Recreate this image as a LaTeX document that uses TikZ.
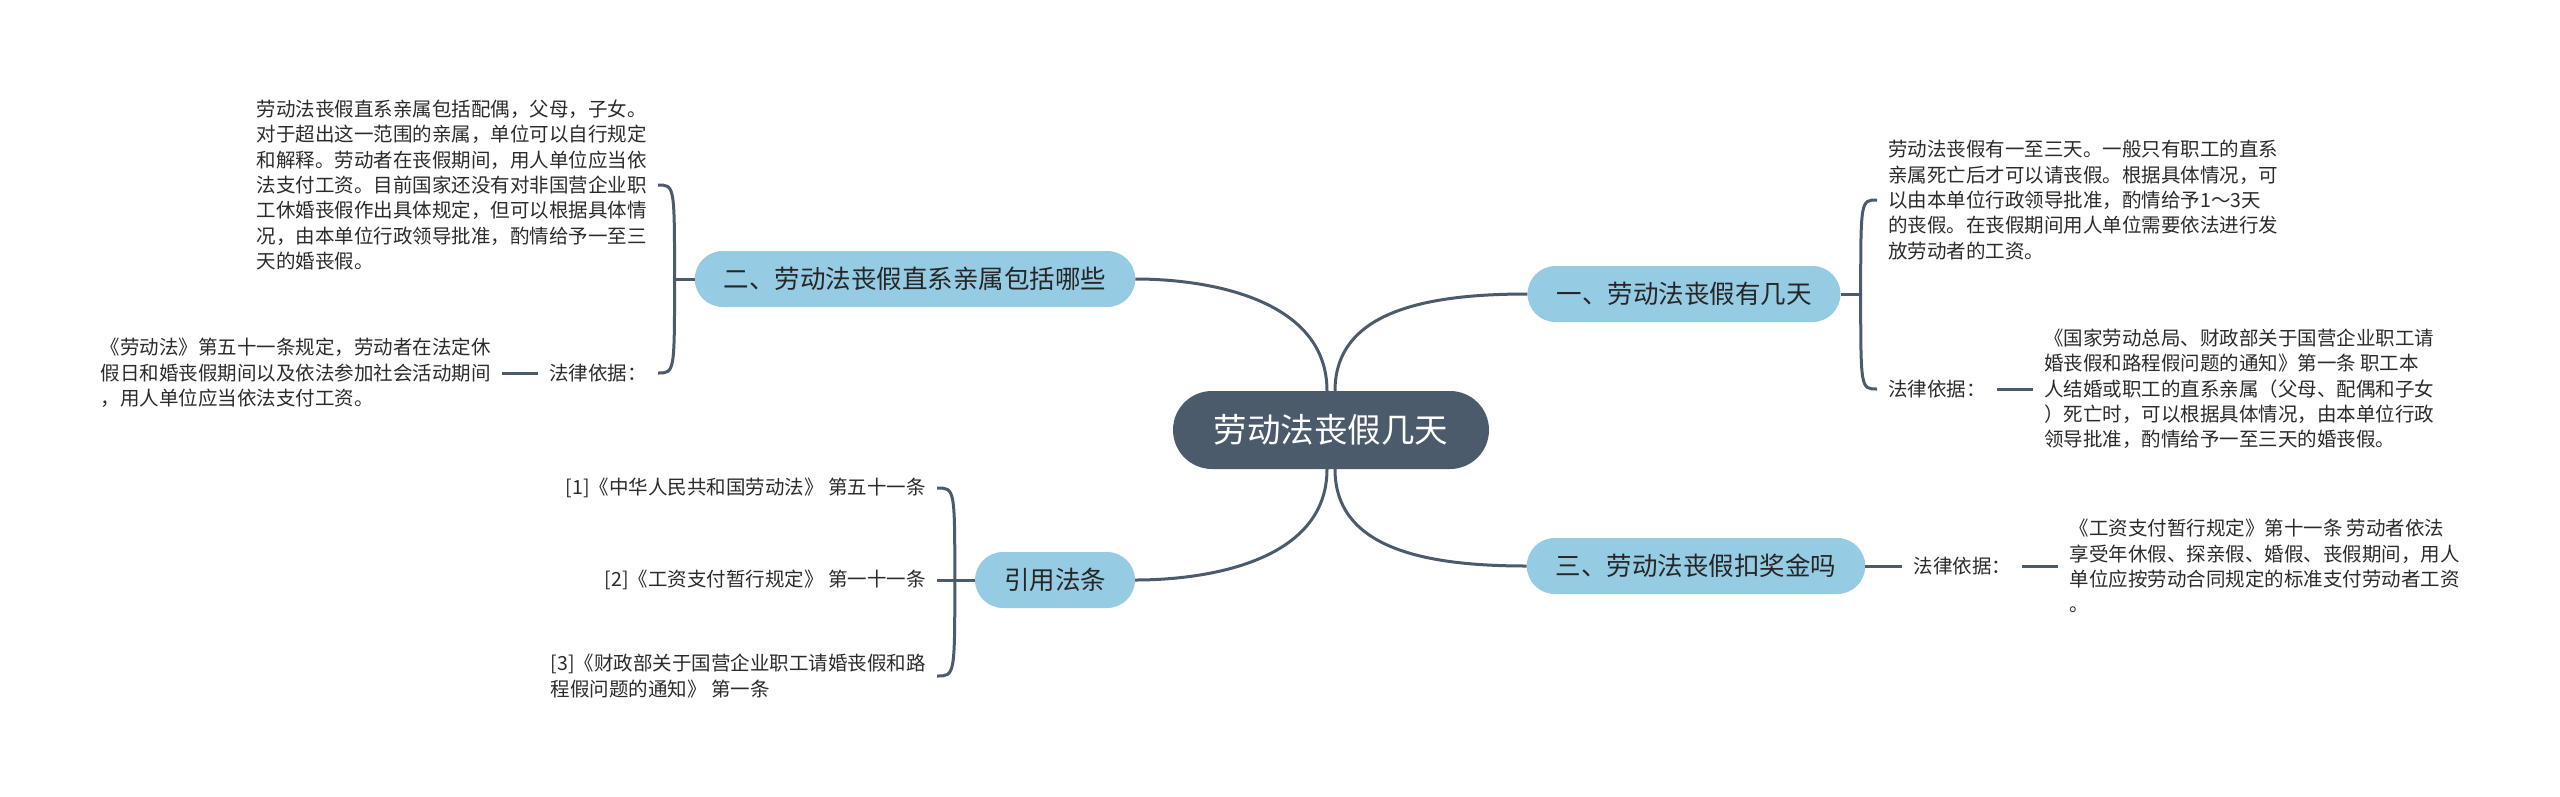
\documentclass[tikz,border=0pt]{standalone}
\usepackage{fontspec}
\setmainfont{Noto Sans CJK SC}
\usetikzlibrary{positioning,calc}

\definecolor{rootcol}{HTML}{4B5B6B}
\definecolor{topiccol}{HTML}{96CBE4}
\definecolor{linecol}{HTML}{4B5B6B}
\definecolor{textcol}{HTML}{2B2B2B}

\begin{document}
\begin{tikzpicture}[
    x=1pt, y=-1pt,
    rootbox/.style={fill=rootcol, text=white, rounded corners=39pt, minimum width=316pt, minimum height=78pt, inner xsep=40pt, font=\fontsize{33.5}{40}\selectfont},
    topicbox/.style={fill=topiccol, text=black!85, rounded corners=28pt, minimum height=56pt, inner xsep=29pt, font=\fontsize{25.5}{30}\selectfont},
    textbox/.style={text=textcol, align=left, inner xsep=11pt, inner ysep=2pt, font=\fontsize{19.5}{25.3}\selectfont},
    conn/.style={draw=linecol, line width=3pt}
]
    \useasboundingbox (0,0) rectangle (2560,796);

    % centre
    \node[rootbox] (root) at (1331,430) {劳动法丧假几天};

    % main topics
    \node[topicbox] (fix) at (1684,294) {一、劳动法丧假有几天};
    \node[topicbox] (kin) at (915,279) {二、劳动法丧假直系亲属包括哪些};
    \node[topicbox] (bonus) at (1696,566) {三、劳动法丧假扣奖金吗};
    \node[topicbox] (refs) at (1055,580) {引用法条};

    % centre to topics
    \draw[conn] ([xshift=4pt]root.north) .. controls +(0,-80) and +(-100,0) .. (fix.west);
    \draw[conn] ([xshift=-4pt]root.north) .. controls +(0,-91) and +(75,0) .. (kin.east);
    \draw[conn] ([xshift=4pt]root.south) .. controls +(0,80) and +(-100,0) .. (bonus.west);
    \draw[conn] ([xshift=-4pt]root.south) .. controls +(0,91) and +(75,0) .. (refs.east);

    % topic one
    \coordinate (fixj) at ([xshift=20pt]fix.east);
    \node[textbox, anchor=west] (fixtext) at (1877,200) {劳动法丧假有一至三天。一般只有职工的直系\\亲属死亡后才可以请丧假。根据具体情况，可\\以由本单位行政领导批准，酌情给予1～3天\\的丧假。在丧假期间用人单位需要依法进行发\\放劳动者的工资。};
    \node[textbox, anchor=west] (fixlaw) at (1877,389) {法律依据：};
    \node[textbox, right=36pt of fixlaw] (fixlawtext) {《国家劳动总局、财政部关于国营企业职工请\\婚丧假和路程假问题的通知》第一条 职工本\\人结婚或职工的直系亲属（父母、配偶和子女\\）死亡时，可以根据具体情况，由本单位行政\\领导批准，酌情给予一至三天的婚丧假。};
    \draw[conn] (fix.east) -- (fixj);
    \draw[conn] (fixj) .. controls (fixj |- fixtext.west) and (fixj |- fixtext.west) .. (fixtext.west);
    \draw[conn] (fixj) .. controls (fixj |- fixlaw.west) and (fixj |- fixlaw.west) .. (fixlaw.west);
    \draw[conn] (fixlaw) -- (fixlawtext);

    % topic two
    \coordinate (kinj) at ([xshift=-20pt]kin.west);
    \node[textbox, anchor=east] (kintext) at (658,185) {劳动法丧假直系亲属包括配偶，父母，子女。\\对于超出这一范围的亲属，单位可以自行规定\\和解释。劳动者在丧假期间，用人单位应当依\\法支付工资。目前国家还没有对非国营企业职\\工休婚丧假作出具体规定，但可以根据具体情\\况，由本单位行政领导批准，酌情给予一至三\\天的婚丧假。};
    \node[textbox, anchor=east] (kinlaw) at (658,373) {法律依据：};
    \node[textbox, left=36pt of kinlaw] (kinlawtext) {《劳动法》第五十一条规定，劳动者在法定休\\假日和婚丧假期间以及依法参加社会活动期间\\，用人单位应当依法支付工资。};
    \draw[conn] (kin.west) -- (kinj);
    \draw[conn] (kinj) .. controls (kinj |- kintext.east) and (kinj |- kintext.east) .. (kintext.east);
    \draw[conn] (kinj) .. controls (kinj |- kinlaw.east) and (kinj |- kinlaw.east) .. (kinlaw.east);
    \draw[conn] (kinlaw) -- (kinlawtext);

    % topic three
    \node[textbox, right=37pt of bonus] (bonuslaw) {法律依据：};
    \node[textbox, right=36pt of bonuslaw] (bonuslawtext) {《工资支付暂行规定》第十一条 劳动者依法\\享受年休假、探亲假、婚假、丧假期间，用人\\单位应按劳动合同规定的标准支付劳动者工资\\。};
    \draw[conn] (bonus) -- (bonuslaw);
    \draw[conn] (bonuslaw) -- (bonuslawtext);

    % references
    \coordinate (refj) at ([xshift=-20pt]refs.west);
    \node[textbox, left=38pt of refs] (refb) {[2]《工资支付暂行规定》 第一十一条};
    \node[textbox, anchor=east] (refa) at (937,488) {[1]《中华人民共和国劳动法》 第五十一条};
    \node[textbox, anchor=east] (refc) at (937,676) {[3]《财政部关于国营企业职工请婚丧假和路\\程假问题的通知》 第一条};
    \draw[conn] (refs) -- (refb);
    \draw[conn] (refj) .. controls (refj |- refa.east) and (refj |- refa.east) .. (refa.east);
    \draw[conn] (refj) .. controls (refj |- refc.east) and (refj |- refc.east) .. (refc.east);

\end{tikzpicture}
\end{document}
